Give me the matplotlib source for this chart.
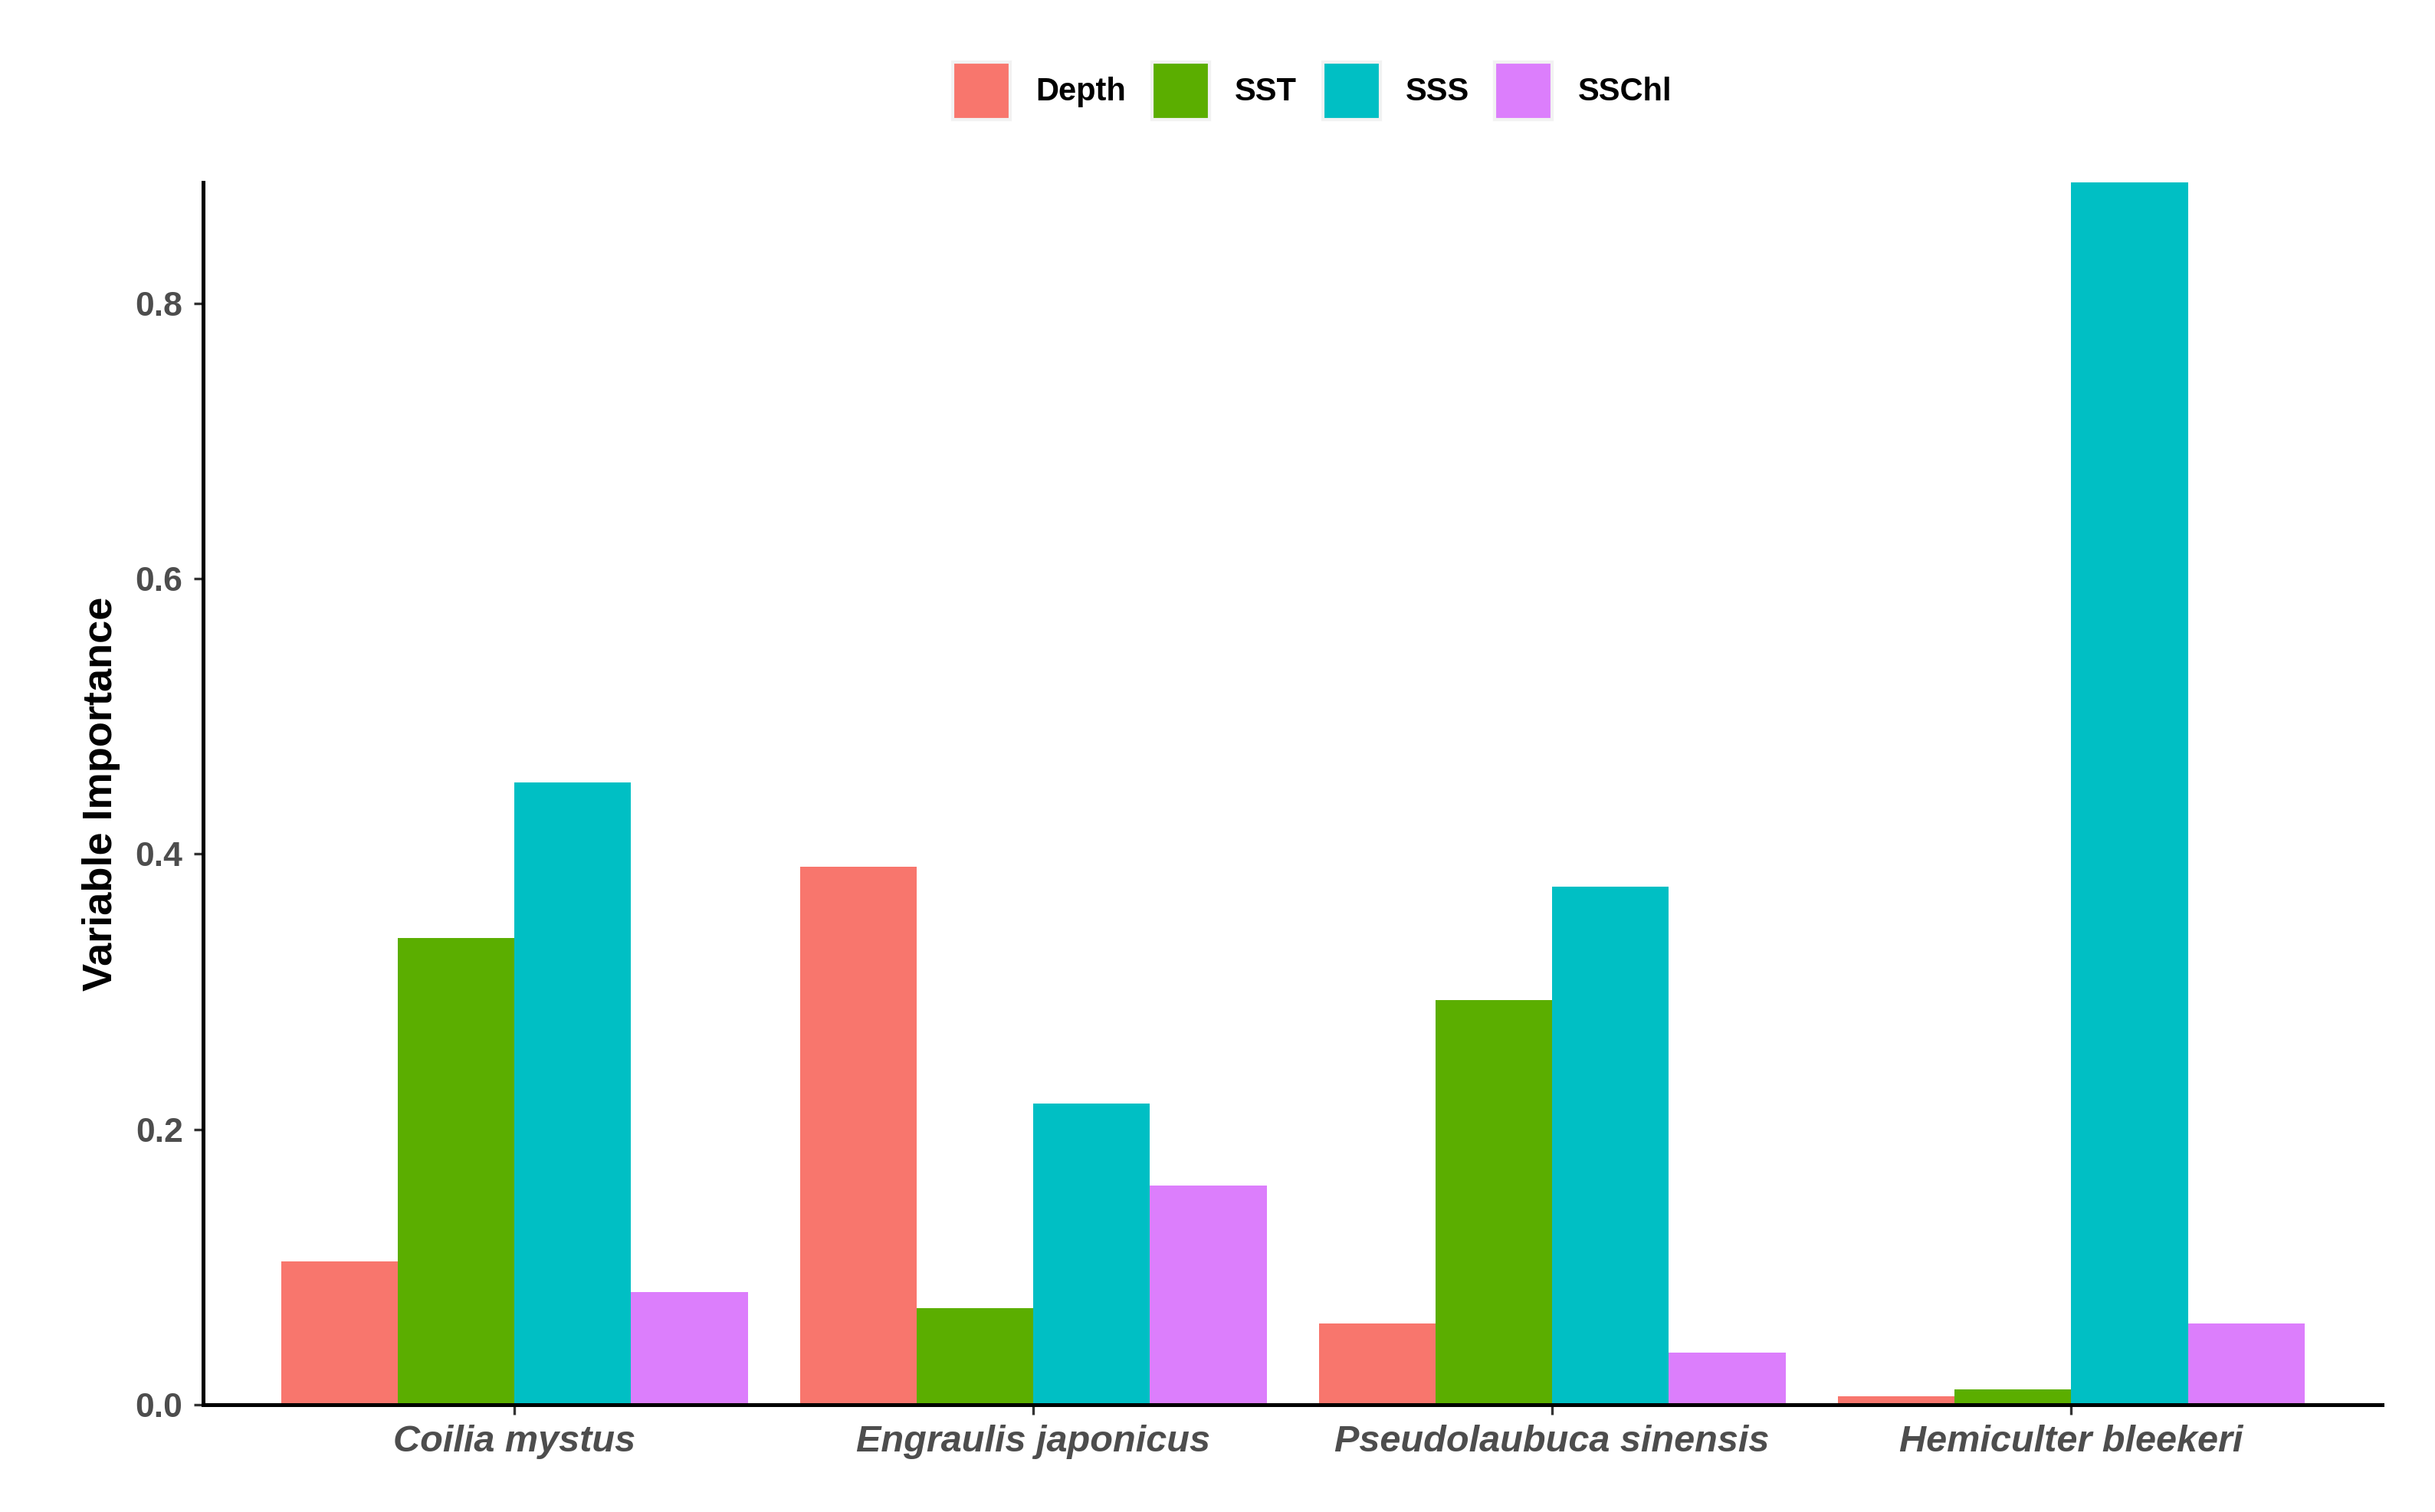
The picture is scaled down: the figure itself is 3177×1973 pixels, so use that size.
import numpy as np
import matplotlib
matplotlib.use("Agg")
import matplotlib.pyplot as plt
from matplotlib.patches import Patch

plt.rcParams['font.family'] = ['Liberation Sans', 'DejaVu Sans']

species = ['Coilia mystus', 'Engraulis japonicus', 'Pseudolaubuca sinensis', 'Hemiculter bleekeri']
variables = ['Depth', 'SST', 'SSS', 'SSChl']
colors = ['#F8766D', '#5BAE00', '#00BFC4', '#DC7EFC']

depth = [0.104, 0.391, 0.059, 0.006]
sst = [0.339, 0.070, 0.294, 0.011]
sss = [0.452, 0.219, 0.376, 0.888]
sschl = [0.082, 0.159, 0.038, 0.059]
values = [depth, sst, sss, sschl]

fig = plt.figure(figsize=(3177 / 200, 1973 / 200), dpi=200)
ax = fig.add_axes([0.0834, 0.071, 0.895, 0.8085])

x = np.arange(1, len(species) + 1)
w = 0.9 / len(variables)
for i, (vals, c) in enumerate(zip(values, colors)):
    ax.bar(x - 0.45 + w * (i + 0.5), vals, width=w, color=c, label=variables[i])

ax.set_xlim(0.4, 4.6)
ax.set_ylim(0, max(sss))
ax.set_xticks(x)
ax.set_xticklabels(species, fontsize=17.5, fontweight='bold', style='italic', color='#4D4D4D')
ax.set_yticks([0.0, 0.2, 0.4, 0.6, 0.8])
ax.set_yticklabels(['0.0', '0.2', '0.4', '0.6', '0.8'], fontsize=16, fontweight='bold', color='#4D4D4D')
ax.set_ylabel('Variable Importance', fontsize=19.5, fontweight='bold', labelpad=7)

for s in ['top', 'right']:
    ax.spines[s].set_visible(False)
for s in ['left', 'bottom']:
    ax.spines[s].set_linewidth(1.8)
    ax.spines[s].set_color('black')
ax.tick_params(axis='both', length=4.5, width=1.2, color='#333333', pad=5)

handles = [Patch(facecolor=c, edgecolor='#F2F2F2', linewidth=1.5, label=v) for v, c in zip(variables, colors)]
leg = fig.legend(handles=handles, loc='center', bbox_to_anchor=(0.539, 0.94), ncol=4, frameon=False,
                 prop={'weight': 'bold', 'size': 15}, handlelength=1.8, handleheight=2.4,
                 handletextpad=0.8, columnspacing=0.8)

fig.savefig('out.png', dpi=200, facecolor='white')
